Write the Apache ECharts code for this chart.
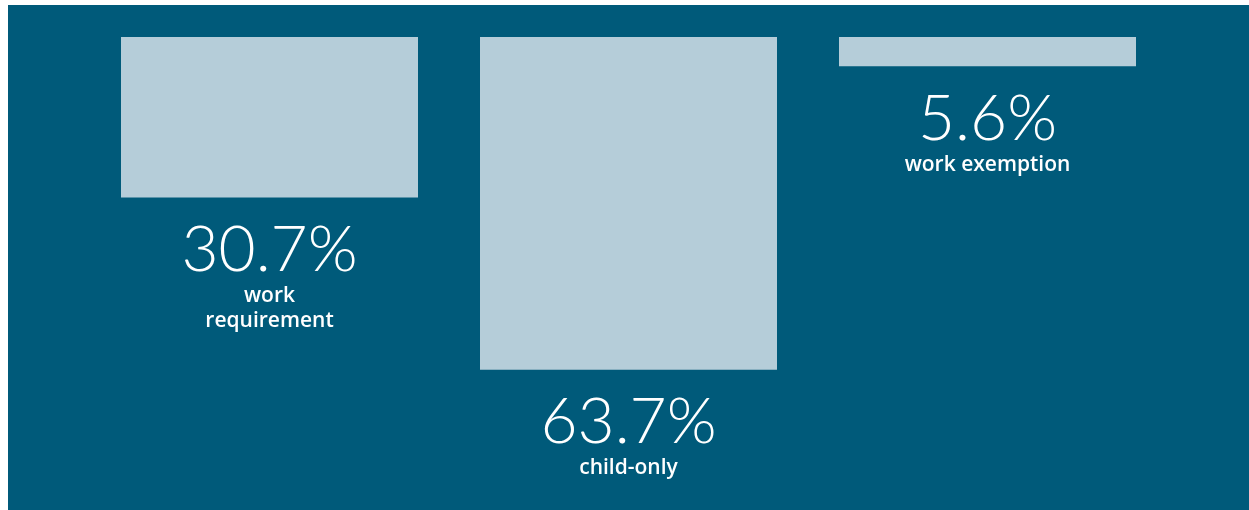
<!DOCTYPE html>
<html>
<head>
<meta charset="utf-8">
<script src="https://cdn.jsdelivr.net/npm/echarts@6/dist/echarts.min.js"></script>
<style>
  html, body { margin: 0; padding: 0; background: #ffffff; width: 1249px; height: 510px; overflow: hidden; }
  #chart { position: absolute; left: 8px; top: 5px; width: 1241px; height: 505px; background: #005a7a; }
</style>
</head>
<body>
<div id="chart"></div>
<script>
const categories = ['work\nrequirement', 'child-only', 'work exemption'];
const values = [30.7, 63.7, 5.6];
const valueLabels = ['30.7%', '63.7%', '5.6%'];

const chart = echarts.init(document.getElementById('chart'), null, { renderer: 'canvas' });
chart.setOption({
  backgroundColor: '#005a7a',
  animation: false,
  grid: { left: 82, top: 32, width: 1077, height: 418 },
  xAxis: {
    type: 'category',
    data: categories,
    show: false
  },
  yAxis: {
    type: 'value',
    inverse: true,
    min: 0,
    max: 80,
    show: false
  },
  series: [{
    type: 'bar',
    data: values,
    barWidth: 297,
    itemStyle: { color: '#b5cdd9' },
    label: {
      show: true,
      position: 'bottom',
      distance: 20,
      align: 'center',
      formatter: function (p) {
        const cat = categories[p.dataIndex].split('\n').map(s => '{cat|' + s + '}').join('\n');
        return '{num|' + valueLabels[p.dataIndex] + '}\n' + cat;
      },
      rich: {
        num: { fontFamily: 'Lato', fontWeight: 300, fontSize: 64, lineHeight: 66, color: '#ffffff' },
        cat: { fontFamily: 'Open Sans', fontWeight: 600, fontSize: 21, lineHeight: 25, color: '#ffffff' }
      }
    }
  }]
});
</script>
</body>
</html>
